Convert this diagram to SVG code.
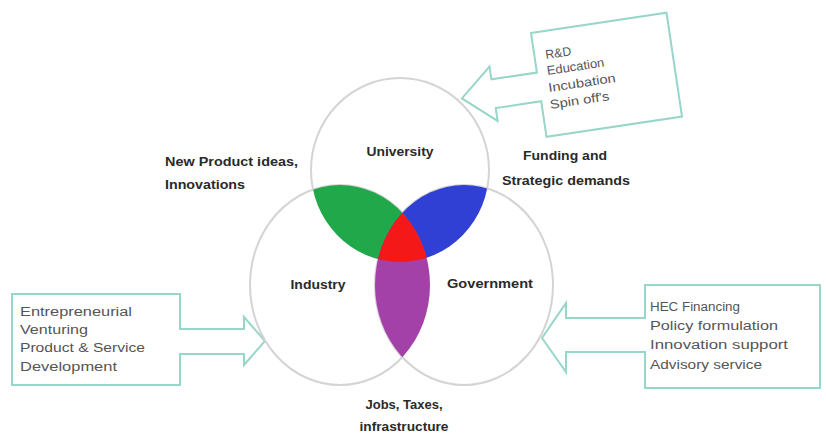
<svg xmlns="http://www.w3.org/2000/svg" width="826" height="439" viewBox="0 0 826 439">
<style>
.ring{fill:#ffffff;stroke:#d4d4d4;stroke-width:2}
.lbl{font-family:"Liberation Sans",Arial,sans-serif;font-weight:bold;font-size:12.5px;fill:#2a2a2a}
.co{fill:#ffffff;stroke:#97d6c9;stroke-width:2;stroke-linejoin:miter}
.ct{font-family:"Liberation Sans",Arial,sans-serif;font-size:12.5px;fill:#555555}
</style>
<defs>
<clipPath id="clipUni"><ellipse cx="400" cy="170" rx="89" ry="92"/></clipPath>
<clipPath id="clipInd"><ellipse cx="340" cy="285" rx="90" ry="100"/></clipPath>
<clipPath id="clipGov"><ellipse cx="464" cy="285" rx="89" ry="100"/></clipPath>
</defs>
<rect width="826" height="439" fill="#ffffff"/>

<g id="connectors">
<path id="arrow-univ" class="co" transform="translate(531,33) rotate(-8.5)" d="M0,0 H137 V105 H0 V69 H-46 V82 L-78,54.5 L-46,27 V40 H0 Z"/>
<path id="arrow-ind" class="co" d="M12,294 H180 V329 H244 V317 L265,341 L244,365 V354 H180 V385 H12 Z"/>
<path id="arrow-gov" class="co" d="M820,285 H645 V318 H566 V303 L542,338 L566,372 V352 H645 V388 H820 Z"/>
</g>

<g id="circles">
<g id="node-university"><ellipse class="ring" cx="400" cy="170" rx="89" ry="92"/></g>
<g id="node-industry"><ellipse class="ring" cx="340" cy="285" rx="90" ry="100"/></g>
<g id="node-government"><ellipse class="ring" cx="464" cy="285" rx="89" ry="100"/></g>
</g>

<g id="overlaps">
<g id="overlap-uni-ind" clip-path="url(#clipInd)"><ellipse cx="400" cy="170" rx="89" ry="92" fill="#21a84b"/></g>
<g id="overlap-uni-gov" clip-path="url(#clipGov)"><ellipse cx="400" cy="170" rx="89" ry="92" fill="#3040d4"/></g>
<g id="overlap-ind-gov" clip-path="url(#clipGov)"><ellipse cx="340" cy="285" rx="90" ry="100" fill="#a441a8"/></g>
<g id="overlap-all" clip-path="url(#clipInd)"><g clip-path="url(#clipGov)"><ellipse cx="400" cy="170" rx="89" ry="92" fill="#f41818"/></g></g>
</g>

<g id="labels">
<text class="lbl" x="400" y="156" text-anchor="middle" textLength="67" lengthAdjust="spacingAndGlyphs">University</text>
<text class="lbl" x="318" y="289" text-anchor="middle" textLength="55" lengthAdjust="spacingAndGlyphs">Industry</text>
<text class="lbl" x="490" y="288" text-anchor="middle" textLength="86" lengthAdjust="spacingAndGlyphs">Government</text>
<g id="note-product">
<text class="lbl" x="165" y="166" textLength="133" lengthAdjust="spacingAndGlyphs">New Product ideas,</text>
<text class="lbl" x="165" y="189" textLength="80" lengthAdjust="spacingAndGlyphs">Innovations</text>
</g>
<g id="note-funding">
<text class="lbl" x="565" y="160" text-anchor="middle" textLength="84" lengthAdjust="spacingAndGlyphs">Funding and</text>
<text class="lbl" x="566" y="185" text-anchor="middle" textLength="128" lengthAdjust="spacingAndGlyphs">Strategic demands</text>
</g>
<g id="note-jobs">
<text class="lbl" x="404" y="409" text-anchor="middle" textLength="77" lengthAdjust="spacingAndGlyphs">Jobs, Taxes,</text>
<text class="lbl" x="404" y="431" text-anchor="middle" textLength="89" lengthAdjust="spacingAndGlyphs">infrastructure</text>
</g>
</g>

<g id="callout-univ-text" transform="translate(531,33) rotate(-8.5)">
<text class="ct" x="11" y="28" textLength="26" lengthAdjust="spacingAndGlyphs">R&amp;D</text>
<text class="ct" x="10" y="44" textLength="58" lengthAdjust="spacingAndGlyphs">Education</text>
<text class="ct" x="9" y="61" textLength="68" lengthAdjust="spacingAndGlyphs">Incubation</text>
<text class="ct" x="8" y="78" textLength="60" lengthAdjust="spacingAndGlyphs">Spin off's</text>
</g>

<g id="callout-ind-text">
<text class="ct" x="20" y="316" textLength="112" lengthAdjust="spacingAndGlyphs">Entrepreneurial</text>
<text class="ct" x="20" y="334" textLength="68" lengthAdjust="spacingAndGlyphs">Venturing</text>
<text class="ct" x="20" y="352" textLength="125" lengthAdjust="spacingAndGlyphs">Product &amp; Service</text>
<text class="ct" x="20" y="371" textLength="97" lengthAdjust="spacingAndGlyphs">Development</text>
</g>

<g id="callout-gov-text">
<text class="ct" x="650" y="311" textLength="90" lengthAdjust="spacingAndGlyphs">HEC Financing</text>
<text class="ct" x="650" y="330" textLength="128" lengthAdjust="spacingAndGlyphs">Policy formulation</text>
<text class="ct" x="650" y="349" textLength="138" lengthAdjust="spacingAndGlyphs">Innovation support</text>
<text class="ct" x="650" y="369" textLength="112" lengthAdjust="spacingAndGlyphs">Advisory service</text>
</g>
</svg>
